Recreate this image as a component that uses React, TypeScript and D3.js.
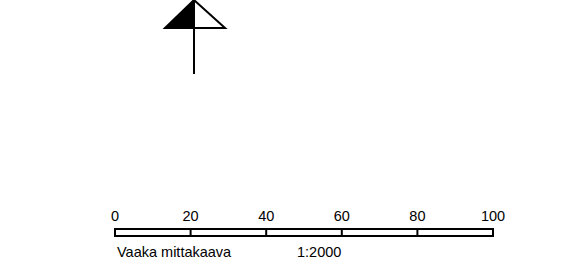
import React, { useEffect, useRef } from "react";
import * as d3 from "d3";

// scale bar values (metres)
const scaleTicks = [0, 20, 40, 60, 80, 100];
const scaleTitle = "Vaaka mittakaava";
const scaleRatio = "1:2000";

// north arrow shape in unit coords: [dx, dy] relative to apex, base at dy = 1
const arrowLeft = [[0, 0], [-1, 1], [0, 1]];
const arrowRight = [[0, 0], [1.07, 1], [0, 1]];

const App = () => {
  const ref = useRef<SVGSVGElement>(null);

  useEffect(() => {
    const width = 572;
    const height = 271;
    const svg = d3.select(ref.current);
    svg.selectAll("*").remove();

    const font = "Arial, 'Liberation Sans', sans-serif";

    // north arrow
    const ax = 194;
    const ay = 0;
    const ah = 28;
    const aw = 29;
    const line = d3
      .line()
      .x((d: any) => ax + d[0] * aw)
      .y((d: any) => ay + d[1] * ah);

    svg
      .append("path")
      .attr("d", line(arrowLeft as any) + "Z")
      .attr("fill", "#000")
      .attr("stroke", "#000")
      .attr("stroke-width", 2)
      .attr("stroke-linejoin", "miter");

    svg
      .append("path")
      .attr("d", line(arrowRight as any) + "Z")
      .attr("fill", "#fff")
      .attr("stroke", "#000")
      .attr("stroke-width", 2);

    svg
      .append("line")
      .attr("x1", ax)
      .attr("x2", ax)
      .attr("y1", ay + ah)
      .attr("y2", 74)
      .attr("stroke", "#000")
      .attr("stroke-width", 2);

    // scale bar
    const x = d3.scaleLinear().domain([0, 100]).range([115, 493]);
    const barTop = 229;
    const barH = 7;

    svg
      .append("rect")
      .attr("x", x(0))
      .attr("y", barTop)
      .attr("width", x(100) - x(0))
      .attr("height", barH)
      .attr("fill", "#fff")
      .attr("stroke", "#000")
      .attr("stroke-width", 2);

    svg
      .selectAll("line.div")
      .data(scaleTicks.slice(1, -1))
      .enter()
      .append("line")
      .attr("class", "div")
      .attr("x1", (d) => x(d))
      .attr("x2", (d) => x(d))
      .attr("y1", barTop)
      .attr("y2", barTop + barH)
      .attr("stroke", "#000")
      .attr("stroke-width", 2);

    svg
      .selectAll("text.tick")
      .data(scaleTicks)
      .enter()
      .append("text")
      .attr("class", "tick")
      .attr("x", (d) => x(d))
      .attr("y", 221)
      .attr("text-anchor", "middle")
      .style("font-family", font)
      .style("font-size", "14.5px")
      .text((d) => d);

    svg
      .append("text")
      .attr("x", 117)
      .attr("y", 257)
      .style("font-family", font)
      .style("font-size", "14.5px")
      .text(scaleTitle);

    svg
      .append("text")
      .attr("x", 297)
      .attr("y", 257)
      .style("font-family", font)
      .style("font-size", "14.5px")
      .text(scaleRatio);

    svg.attr("width", width).attr("height", height);
  }, []);

  return (
    <svg
      ref={ref}
      width={572}
      height={271}
      style={{ position: "absolute", left: 0, top: 0, background: "#fff" }}
    />
  );
};

export default App;
